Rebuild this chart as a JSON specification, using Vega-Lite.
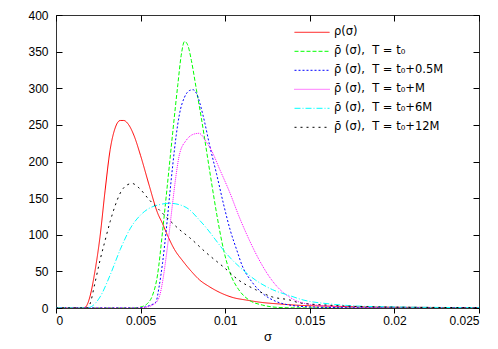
{
  "$schema": "https://vega.github.io/schema/vega-lite/v6.json",
  "width": 423,
  "height": 293,
  "autosize": "none",
  "padding": {"left": 56, "top": 15, "right": 19, "bottom": 41},
  "background": "white",
  "config": {
    "view": {"stroke": "#333", "strokeWidth": 1},
    "font": "Liberation Sans",
    "axis": {"domain": false, "grid": false, "ticks": true, "tickOpacity": 1, "labelFont": "Liberation Sans", "labelFontSize": 12, "labelColor": "#000", "tickColor": "#000", "tickWidth": 1, "titleFont": "Liberation Sans", "titleFontWeight": "normal", "titleFontSize": 13, "titleColor": "#000"}
  },
  "data": {"values": [
    {"c":"A","s":0,"v":0},{"c":"A","s":0.0015,"v":0},{"c":"A","s":0.0017,"v":0.5},{"c":"A","s":0.002,"v":15},{"c":"A","s":0.0023,"v":50},{"c":"A","s":0.0026,"v":97},{"c":"A","s":0.0029,"v":160},{"c":"A","s":0.0032,"v":216},{"c":"A","s":0.0035,"v":246},{"c":"A","s":0.0038,"v":256},{"c":"A","s":0.004,"v":256},{"c":"A","s":0.0043,"v":250},{"c":"A","s":0.0046,"v":236},{"c":"A","s":0.005,"v":208},{"c":"A","s":0.0055,"v":168},{"c":"A","s":0.006,"v":130},{"c":"A","s":0.0063,"v":115},{"c":"A","s":0.0065,"v":104},{"c":"A","s":0.007,"v":80},{"c":"A","s":0.0075,"v":64},{"c":"A","s":0.008,"v":50},{"c":"A","s":0.0085,"v":38},{"c":"A","s":0.009,"v":30},{"c":"A","s":0.0097,"v":21},{"c":"A","s":0.0105,"v":14},{"c":"A","s":0.0112,"v":11},{"c":"A","s":0.0122,"v":7.5},{"c":"A","s":0.0132,"v":5.5},{"c":"A","s":0.0145,"v":3.5},{"c":"A","s":0.0162,"v":2.5},{"c":"A","s":0.018,"v":1.6},{"c":"A","s":0.02,"v":1.1},{"c":"A","s":0.0225,"v":0.7},{"c":"A","s":0.025,"v":0.5},
    {"c":"B","s":0,"v":0},{"c":"B","s":0.0045,"v":0},{"c":"B","s":0.0048,"v":0.5},{"c":"B","s":0.0051,"v":2},{"c":"B","s":0.0054,"v":6},{"c":"B","s":0.0057,"v":17},{"c":"B","s":0.006,"v":45},{"c":"B","s":0.0063,"v":105},{"c":"B","s":0.0066,"v":172},{"c":"B","s":0.0069,"v":240},{"c":"B","s":0.0072,"v":305},{"c":"B","s":0.0074,"v":345},{"c":"B","s":0.0076,"v":364},{"c":"B","s":0.0078,"v":358},{"c":"B","s":0.008,"v":338},{"c":"B","s":0.0083,"v":298},{"c":"B","s":0.0086,"v":258},{"c":"B","s":0.0089,"v":214},{"c":"B","s":0.0092,"v":170},{"c":"B","s":0.0095,"v":128},{"c":"B","s":0.0099,"v":80},{"c":"B","s":0.0103,"v":47},{"c":"B","s":0.0108,"v":25},{"c":"B","s":0.0114,"v":11},{"c":"B","s":0.0122,"v":4},{"c":"B","s":0.013,"v":1},{"c":"B","s":0.014,"v":0.2},{"c":"B","s":0.025,"v":0},
    {"c":"C","s":0,"v":0},{"c":"C","s":0.0048,"v":0},{"c":"C","s":0.0052,"v":1},{"c":"C","s":0.0056,"v":4},{"c":"C","s":0.0059,"v":8},{"c":"C","s":0.0061,"v":30},{"c":"C","s":0.0063,"v":62},{"c":"C","s":0.0065,"v":103},{"c":"C","s":0.0067,"v":150},{"c":"C","s":0.0069,"v":195},{"c":"C","s":0.0071,"v":235},{"c":"C","s":0.0073,"v":265},{"c":"C","s":0.0076,"v":288},{"c":"C","s":0.0079,"v":297},{"c":"C","s":0.0081,"v":298},{"c":"C","s":0.0083,"v":293},{"c":"C","s":0.0087,"v":262},{"c":"C","s":0.0091,"v":220},{"c":"C","s":0.0095,"v":182},{"c":"C","s":0.0099,"v":142},{"c":"C","s":0.0103,"v":106},{"c":"C","s":0.0107,"v":78},{"c":"C","s":0.011,"v":58},{"c":"C","s":0.0116,"v":35},{"c":"C","s":0.0122,"v":20},{"c":"C","s":0.013,"v":9},{"c":"C","s":0.0138,"v":4},{"c":"C","s":0.015,"v":1.5},{"c":"C","s":0.017,"v":0.5},{"c":"C","s":0.02,"v":0.2},{"c":"C","s":0.025,"v":0},
    {"c":"D","s":0,"v":0},{"c":"D","s":0.0048,"v":0},{"c":"D","s":0.0053,"v":1},{"c":"D","s":0.0057,"v":4},{"c":"D","s":0.006,"v":10},{"c":"D","s":0.0061,"v":15},{"c":"D","s":0.0063,"v":36},{"c":"D","s":0.0065,"v":68},{"c":"D","s":0.0067,"v":105},{"c":"D","s":0.0069,"v":145},{"c":"D","s":0.0071,"v":182},{"c":"D","s":0.0073,"v":210},{"c":"D","s":0.0077,"v":229},{"c":"D","s":0.0081,"v":237},{"c":"D","s":0.00845,"v":238.5},{"c":"D","s":0.0089,"v":226},{"c":"D","s":0.0091,"v":219},{"c":"D","s":0.0097,"v":188},{"c":"D","s":0.0103,"v":156},{"c":"D","s":0.0108,"v":126},{"c":"D","s":0.0114,"v":94},{"c":"D","s":0.012,"v":66},{"c":"D","s":0.0126,"v":43},{"c":"D","s":0.0132,"v":26},{"c":"D","s":0.0138,"v":15},{"c":"D","s":0.0144,"v":8},{"c":"D","s":0.0156,"v":3.5},{"c":"D","s":0.017,"v":1.5},{"c":"D","s":0.02,"v":0.5},{"c":"D","s":0.025,"v":0.1},
    {"c":"E","s":0,"v":0},{"c":"E","s":0.0018,"v":0},{"c":"E","s":0.0021,"v":2},{"c":"E","s":0.0026,"v":15},{"c":"E","s":0.0032,"v":45},{"c":"E","s":0.0038,"v":80},{"c":"E","s":0.0044,"v":109},{"c":"E","s":0.005,"v":127},{"c":"E","s":0.0055,"v":136},{"c":"E","s":0.0061,"v":141},{"c":"E","s":0.0067,"v":143},{"c":"E","s":0.0073,"v":141},{"c":"E","s":0.0079,"v":134},{"c":"E","s":0.0084,"v":122},{"c":"E","s":0.0089,"v":109},{"c":"E","s":0.0094,"v":94},{"c":"E","s":0.0099,"v":79},{"c":"E","s":0.0104,"v":66},{"c":"E","s":0.0109,"v":55},{"c":"E","s":0.0118,"v":38},{"c":"E","s":0.0128,"v":25},{"c":"E","s":0.0138,"v":17},{"c":"E","s":0.0146,"v":11},{"c":"E","s":0.0162,"v":5.5},{"c":"E","s":0.018,"v":2.5},{"c":"E","s":0.02,"v":1.5},{"c":"E","s":0.0225,"v":0.8},{"c":"E","s":0.025,"v":0.5},
    {"c":"F","s":0,"v":0},{"c":"F","s":0.0018,"v":0},{"c":"F","s":0.002,"v":5},{"c":"F","s":0.0023,"v":34},{"c":"F","s":0.0026,"v":65},{"c":"F","s":0.0029,"v":92},{"c":"F","s":0.0032,"v":118},{"c":"F","s":0.0035,"v":140},{"c":"F","s":0.0038,"v":157},{"c":"F","s":0.0042,"v":168},{"c":"F","s":0.0045,"v":170},{"c":"F","s":0.0049,"v":164},{"c":"F","s":0.0055,"v":148},{"c":"F","s":0.0061,"v":134},{"c":"F","s":0.0067,"v":120},{"c":"F","s":0.0073,"v":107},{"c":"F","s":0.0079,"v":96},{"c":"F","s":0.0089,"v":75},{"c":"F","s":0.0099,"v":56},{"c":"F","s":0.0108,"v":38},{"c":"F","s":0.0118,"v":25},{"c":"F","s":0.0128,"v":15},{"c":"F","s":0.0138,"v":11},{"c":"F","s":0.0144,"v":7},{"c":"F","s":0.016,"v":4},{"c":"F","s":0.0171,"v":2.7},{"c":"F","s":0.019,"v":1.5},{"c":"F","s":0.022,"v":0.8},{"c":"F","s":0.025,"v":0.5}
  ]},
  "resolve": {"axis": {"x": "independent", "y": "independent"}},
  "layer": [
    {
      "mark": {"type": "line", "strokeWidth": 1, "interpolate": "monotone", "clip": true},
      "encoding": {
        "x": {"field": "s", "type": "quantitative", "scale": {"domain": [0, 0.025], "nice": false},
          "axis": {"orient": "bottom", "title": "σ", "values": [0, 0.005, 0.01, 0.015, 0.02, 0.025], "format": "~g", "tickSize": 5, "labelPadding": 2, "titlePadding": 4, "zindex": 2}},
        "y": {"field": "v", "type": "quantitative", "scale": {"domain": [0, 400], "nice": false},
          "axis": {"orient": "left", "title": null, "values": [0, 50, 100, 150, 200, 250, 300, 350, 400], "offset": -6, "tickSize": 6, "labelPadding": 8, "zindex": 2}},
        "color": {"field": "c", "type": "nominal",
          "scale": {"domain": ["A", "B", "C", "D", "E", "F"], "range": ["#ff0000", "#00ff00", "#0000ff", "#ff00ff", "#00ffff", "#000000"]},
          "legend": {"title": null, "orient": "none", "legendX": 238, "legendY": 8, "symbolType": "stroke", "symbolSize": 1225, "symbolStrokeWidth": 1, "labelFontSize": 11.5, "labelFont": "DejaVu Sans", "labelColor": "#000", "rowPadding": 0, "clipHeight": 18.6, "labelOffset": 4,
            "labelExpr": "{'A':'ρ(σ)','B':'ρ̄ (σ),\u00a0 T = t₀','C':'ρ̄ (σ),\u00a0 T = t₀+0.5M','D':'ρ̄ (σ),\u00a0 T = t₀+M','E':'ρ̄ (σ),\u00a0 T = t₀+6M','F':'ρ̄ (σ),\u00a0 T = t₀+12M'}[datum.label]"}},
        "strokeDash": {"field": "c", "type": "nominal",
          "scale": {"domain": ["A", "B", "C", "D", "E", "F"], "range": [[1, 0], [4, 2], [2, 2], [1, 1], [6, 2, 1, 2], [2, 4]]},
          "legend": null}
      }
    },
    {
      "mark": {"type": "point", "opacity": 0},
      "encoding": {
        "x": {"field": "s", "type": "quantitative", "axis": {"orient": "top", "title": null, "values": [0, 0.005, 0.01, 0.015, 0.02, 0.025], "labels": false, "tickSize": -6, "zindex": 2}},
        "y": {"field": "v", "type": "quantitative", "axis": {"orient": "right", "title": null, "values": [0, 50, 100, 150, 200, 250, 300, 350, 400], "labels": false, "offset": -6, "tickSize": 6}}
      }
    }
  ]
}
